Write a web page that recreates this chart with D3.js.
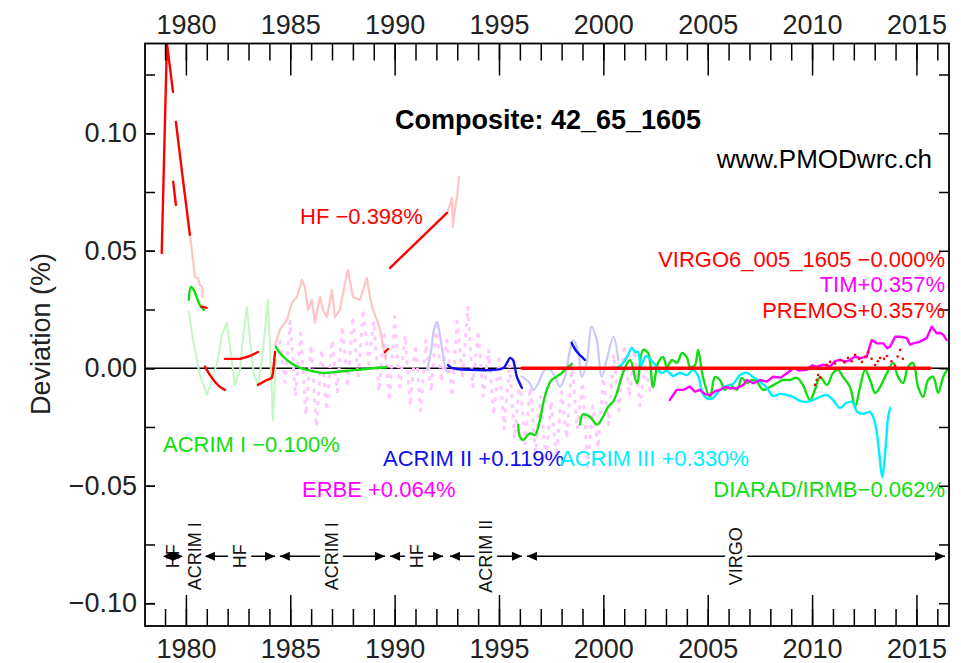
<!DOCTYPE html>
<html><head><meta charset="utf-8">
<script src="https://cdn.jsdelivr.net/npm/d3@7"></script>
<style>body{margin:0;background:#fff;} svg{display:block;font-family:"Liberation Sans",Arial,sans-serif;}</style>
</head><body><svg id="c" width="961" height="663"></svg>
<script>
// ---------------- DATA ----------------
const xMajorTicks = [1980, 1985, 1990, 1995, 2000, 2005, 2010, 2015];
const yMajorTicks = [-0.10, -0.05, 0.00, 0.05, 0.10];

// HF (bright red, used in composite)
const hfSeg1 = [[1978.84,0.049],[1979.09,0.1384],[1979.38,0.1176]];
const hfSeg2 = [[1979.39,0.0794],[1979.52,0.0695]];
const hfSeg3 = [[1979.52,0.1048],[1979.86,0.0802],[1980.19,0.0568]];
const hfSeg4 = [[1980.75,0.0262],[1980.99,0.0257]];
const hfSeg5 = [[1980.91,0.0007],[1981.15,-0.0029],[1981.39,-0.0058],[1981.63,-0.0080],[1981.87,-0.0092]];
const hfSeg6 = [[1981.87,0.0040],[1982.59,0.0040],[1983.07,0.0052],[1983.45,0.0069]];
const hfSeg7 = [[1983.45,-0.0071],[1983.79,-0.0054],[1984.12,-0.0041],[1984.17,-0.0020],[1984.27,0.0069]];
const hfSeg8 = [[1989.54,0.0069],[1989.68,0.0082]];
const hfSeg9 = [[1989.78,0.0427],[1992.51,0.0661]];
// HF (pale, not used)
const hfPale1 = [[1980.19,0.0568],[1980.34,0.0461],[1980.43,0.0389],[1980.58,0.0384],[1980.67,0.0354],[1980.77,0.0346],[1980.81,0.0303]];
const hfPale2 = [[1984.27,0.0099],[1984.50,0.0163],[1984.84,0.0206],[1985.08,0.0278],[1985.32,0.0303],[1985.56,0.0376],[1985.70,0.0346],[1985.85,0.0248],[1986.04,0.0291],[1986.18,0.0193],[1986.42,0.0303],[1986.57,0.0248],[1986.76,0.0218],[1987.00,0.0333],[1987.14,0.0218],[1987.38,0.0248],[1987.62,0.0363],[1987.76,0.0418],[1988.00,0.0303],[1988.34,0.0291],[1988.67,0.0384],[1988.82,0.0303],[1988.96,0.0248],[1989.15,0.0206],[1989.30,0.0163],[1989.44,0.0099],[1989.58,0.0035]];
const hfPale3 = [[1992.51,0.0661],[1992.65,0.0695],[1992.75,0.0725],[1992.79,0.0601],[1992.89,0.0674],[1992.99,0.0729],[1993.08,0.0814]];

// ACRIM I (green)
const acrim1Seg1 = [[1980.14,0.0291],[1980.24,0.0346],[1980.38,0.0333],[1980.53,0.0299],[1980.67,0.0269],[1980.86,0.0248]];
const acrim1Seg2 = [[1984.31,0.0091],[1984.50,0.0065],[1984.84,0.0035],[1985.32,0.0007],[1985.80,-0.0007],[1986.57,-0.0020],[1987.38,-0.0014],[1988.19,-0.0007],[1988.96,0.0000],[1989.63,0.0004]];
const acrim1Pale = [[1980.14,0.0240],[1980.34,0.0120],[1980.67,-0.0029],[1981.01,-0.0114],[1981.25,-0.0050],[1981.53,0.0035],[1981.73,0.0142],[1981.96,0.0193],[1982.16,0.0057],[1982.35,-0.0071],[1982.59,-0.0007],[1982.78,0.0163],[1982.92,0.0261],[1983.07,0.0120],[1983.26,-0.0029],[1983.45,-0.0071],[1983.64,0.0035],[1983.79,0.0163],[1983.93,0.0291],[1984.03,0.0078],[1984.17,-0.0220],[1984.31,0.0035]];

// ERBE (pale magenta)
const erbe = [[1984.50,0.012],[1984.75,-0.006],[1985.00,0.020],[1985.25,-0.012],[1985.50,0.015],[1985.75,-0.020],[1986.00,0.010],[1986.25,-0.025],[1986.50,0.008],[1986.75,-0.018],[1987.00,0.012],[1987.25,-0.010],[1987.50,0.018],[1987.75,-0.008],[1988.00,0.022],[1988.25,-0.004],[1988.50,0.025],[1988.75,0.002],[1989.00,0.020],[1989.25,-0.010],[1989.50,0.016],[1989.75,-0.014],[1990.00,0.022],[1990.25,-0.008],[1990.50,0.014],[1990.75,-0.016],[1991.00,0.010],[1991.25,-0.018],[1991.50,0.012],[1991.75,-0.010],[1992.00,0.018],[1992.25,-0.006],[1992.50,0.012],[1992.75,-0.012],[1993.00,0.020],[1993.25,-0.004],[1993.50,0.026],[1993.75,-0.008],[1994.00,0.016],[1994.25,-0.012],[1994.50,0.008],[1994.75,-0.020],[1995.00,0.004],[1995.25,-0.026],[1995.50,0.002],[1995.75,-0.030],[1996.00,-0.004],[1996.25,-0.032],[1996.50,-0.008],[1996.75,-0.036],[1997.00,-0.012],[1997.25,-0.040],[1997.50,-0.014],[1997.75,-0.038],[1998.00,-0.010],[1998.25,-0.030],[1998.50,0.002],[1998.75,-0.026],[1999.00,-0.006],[1999.25,-0.042],[1999.50,-0.016],[1999.75,-0.034],[2000.00,-0.004],[2000.25,-0.024],[2000.50,0.006],[2000.75,-0.018],[2001.00,0.010],[2001.25,-0.012],[2001.50,0.008],[2001.75,-0.016],[2002.00,0.002],[2002.25,-0.010]];

// ACRIM II (blue)
const acrim2Seg1 = [[1992.56,0.0014],[1992.65,0.0006],[1992.80,0.0000],[1995.19,0.0000],[1995.38,0.0023],[1995.53,0.0044],[1995.67,0.0035],[1995.86,-0.0037],[1996.10,-0.0084]];
const acrim2Seg2 = [[1998.48,0.0108],[1998.72,0.0071],[1998.96,0.0049],[1999.12,0.0035]];
const acrim2Pale1 = [[1991.55,-0.0007],[1991.74,0.0070],[1991.88,0.0163],[1992.03,0.0197],[1992.17,0.0142],[1992.32,0.0057],[1992.46,-0.0007],[1992.56,-0.0016]];
const acrim2Pale2 = [[1996.09,-0.0036],[1996.48,-0.0064],[1996.64,-0.0092],[1996.88,-0.0064],[1997.20,-0.0007],[1997.44,-0.0007],[1997.68,-0.0036],[1997.92,-0.0078],[1998.16,-0.0036],[1998.40,0.0078],[1998.56,0.0120],[1998.80,0.0071],[1998.96,-0.0036],[1999.20,0.0021],[1999.44,0.0177],[1999.68,0.0120],[1999.92,-0.0036],[2000.16,0.0035],[2000.48,0.0134],[2000.72,0.0035]];

// ACRIM III (cyan)
const acrim3 = [[2000.56,0.0001],[2000.80,0.0010],[2000.99,0.0027],[2001.18,0.0057],[2001.37,0.0086],[2001.52,0.0069],[2001.66,0.0069],[2001.80,0.0010],[2002.04,0.0052],[2002.28,0.0035],[2002.52,0.0010],[2002.76,-0.0020],[2003.05,-0.0011],[2003.34,-0.0033],[2003.67,-0.0020],[2004.01,-0.0029],[2004.30,-0.0007],[2004.54,-0.0033],[2004.77,-0.0109],[2005.01,-0.0130],[2005.25,-0.0126],[2005.59,-0.0092],[2005.92,-0.0075],[2006.21,-0.0067],[2006.55,-0.0029],[2006.88,-0.0020],[2007.17,-0.0037],[2007.51,-0.0058],[2007.84,-0.0084],[2008.13,-0.0118],[2008.47,-0.0109],[2008.80,-0.0114],[2009.09,-0.0122],[2009.42,-0.0139],[2009.76,-0.0143],[2010.05,-0.0135],[2010.38,-0.0122],[2010.72,-0.0114],[2011.00,-0.0135],[2011.34,-0.0169],[2011.63,-0.0148],[2011.92,-0.0143],[2012.16,-0.0186],[2012.40,-0.0194],[2012.59,-0.0190],[2012.78,-0.0186],[2012.92,-0.0207],[2013.07,-0.0254],[2013.21,-0.0356],[2013.36,-0.0463],[2013.45,-0.0412],[2013.55,-0.0305],[2013.64,-0.0211],[2013.74,-0.0169]];

// DIARAD/IRMB (green)
const diaradSeg1 = [[1995.92,-0.0240],[1996.00,-0.0291],[1996.16,-0.0305],[1996.48,-0.0277],[1996.72,-0.0284],[1996.96,-0.0220],[1997.12,-0.0149],[1997.29,-0.0092],[1997.52,-0.0050],[1997.76,-0.0036],[1998.00,-0.0021],[1998.24,0.0000],[1998.48,0.0018]];
const diaradSeg2 = [[1998.88,-0.0240],[1999.02,-0.0197],[1999.36,-0.0207],[1999.70,-0.0240],[1999.98,-0.0207],[2000.22,-0.0165],[2000.46,-0.0143],[2000.65,-0.0105],[2000.94,-0.0020],[2001.28,0.0035],[2001.61,-0.0063],[2001.90,0.0078],[2002.14,0.0065],[2002.38,-0.0080],[2002.62,0.0023],[2002.86,0.0048],[2003.05,0.0006],[2003.29,0.0035],[2003.53,0.0023],[2003.77,0.0065],[2004.01,0.0044],[2004.15,0.0006],[2004.39,0.0014],[2004.54,0.0078],[2004.77,-0.0037],[2005.11,-0.0122],[2005.35,-0.0037],[2005.59,-0.0050],[2005.83,-0.0092],[2006.07,-0.0071],[2006.40,-0.0092],[2006.64,-0.0041],[2006.88,-0.0063],[2007.12,-0.0050],[2007.36,-0.0058],[2007.65,-0.0092],[2007.98,-0.0080],[2008.32,-0.0063],[2008.60,-0.0050],[2008.94,-0.0050],[2009.27,-0.0041],[2009.56,-0.0071],[2009.90,-0.0135],[2010.14,-0.0092],[2010.38,-0.0037],[2010.72,-0.0071],[2011.00,-0.0020],[2011.24,-0.0007],[2011.48,-0.0037],[2011.82,-0.0080],[2012.06,-0.0165],[2012.30,-0.0080],[2012.54,-0.0007],[2012.78,-0.0050],[2013.02,-0.0105],[2013.26,-0.0080],[2013.59,-0.0020],[2013.88,0.0023],[2014.12,-0.0037],[2014.36,-0.0063],[2014.60,0.0006],[2014.84,0.0023],[2015.08,-0.0080],[2015.32,-0.0122],[2015.56,-0.0050],[2015.80,-0.0037],[2016.04,-0.0105],[2016.28,-0.0037],[2016.47,-0.0007]];

// TIM (magenta)
const tim = [[2003.19,-0.0135],[2003.51,-0.0092],[2003.83,-0.0092],[2004.15,-0.0078],[2004.39,-0.0100],[2004.63,-0.0092],[2004.87,-0.0110],[2005.11,-0.0114],[2005.35,-0.0098],[2005.59,-0.0092],[2005.83,-0.0080],[2006.07,-0.0085],[2006.39,-0.0085],[2006.71,-0.0071],[2006.87,-0.0050],[2007.19,-0.0064],[2007.51,-0.0050],[2007.83,-0.0057],[2008.14,-0.0036],[2008.50,-0.0040],[2008.79,-0.0021],[2009.10,0.0000],[2009.40,-0.0010],[2009.74,-0.0007],[2010.00,0.0012],[2010.22,0.0007],[2010.55,0.0015],[2010.86,0.0007],[2011.10,0.0030],[2011.34,0.0035],[2011.60,0.0028],[2011.82,0.0035],[2012.05,0.0050],[2012.30,0.0043],[2012.62,0.0049],[2012.75,0.0090],[2012.86,0.0120],[2013.10,0.0106],[2013.41,0.0106],[2013.60,0.0085],[2013.74,0.0092],[2013.98,0.0134],[2014.22,0.0134],[2014.54,0.0128],[2014.70,0.0100],[2014.85,0.0106],[2015.17,0.0113],[2015.49,0.0128],[2015.73,0.0177],[2015.97,0.0149],[2016.15,0.0150],[2016.29,0.0142],[2016.45,0.0120]];

// PREMOS (red dotted)
const premos = [[2010.14,-0.0071],[2010.22,-0.0050],[2010.29,-0.0029],[2010.40,-0.0040],[2010.48,0.0001],[2010.70,0.0015],[2010.86,0.0027],[2011.10,0.0020],[2011.34,0.0035],[2011.55,0.0025],[2011.72,0.0044],[2011.90,0.0030],[2012.06,0.0057],[2012.25,0.0040],[2012.39,0.0027],[2012.55,0.0050],[2012.68,0.0069],[2012.85,0.0040],[2013.02,0.0014],[2013.15,0.0030],[2013.26,0.0044],[2013.45,0.0040],[2013.59,0.0052],[2013.80,0.0030],[2013.98,0.0010],[2014.10,0.0050],[2014.22,0.0078],[2014.35,0.0040],[2014.46,0.0001]];

// VIRGO (reference, red)
const virgo = [[1996.10,0.0000],[2000.00,0.0000],[2005.00,0.0000],[2010.00,0.0000],[2015.65,0.0000]];

// Instrument periods shown at the bottom
const periodNames = ["HF", "ACRIM I", "HF", "ACRIM I", "HF", "ACRIM II", "VIRGO"];
const periodStart = [1978.90, 1980.10, 1980.91, 1984.50, 1989.78, 1992.65, 1996.34];
const periodEnd   = [1979.86, 1980.80, 1984.27, 1989.54, 1992.32, 1996.10, 2016.37];
const periodLevel = -0.08;

// ---------------- DRAW ----------------
const svg = d3.select("#c");
const L = 145, R = 949, T = 43.5, B = 626;
const x = d3.scaleLinear().domain([1978.04, 2016.56]).range([L, R]);
const y = d3.scaleLinear().domain([-0.1097, 0.1382]).range([B, T]);

svg.append("defs").append("clipPath").attr("id","clip")
  .append("rect").attr("x",L).attr("y",T).attr("width",R-L).attr("height",B-T);

const plot = svg.append("g").attr("clip-path","url(#clip)");
const linear = d3.line().x(d=>x(d[0])).y(d=>y(d[1]));
const smooth = d3.line().x(d=>x(d[0])).y(d=>y(d[1])).curve(d3.curveCatmullRom.alpha(0.5));

function draw(data, gen, color, width, dash) {
  const p = plot.append("path").datum(data).attr("d", gen)
    .attr("fill","none").attr("stroke",color).attr("stroke-width",width)
    .attr("stroke-linejoin","round").attr("stroke-linecap","round");
  if (dash) p.attr("stroke-dasharray", dash).attr("stroke-linecap","butt");
  return p;
}

const PALE_RED = "#ffc4c4", PALE_GREEN = "#c4f7c4", PALE_BLUE = "#c8c8fa", PALE_MAG = "#ffc8ff";
const RED = "#ff0000", GREEN = "#11dd11", BLUE = "#1010ee", CYAN = "#00eeff", MAG = "#ff00ff";

// zero line
plot.append("line").attr("x1",L).attr("x2",R).attr("y1",y(0)).attr("y2",y(0))
  .attr("stroke","#000").attr("stroke-width",1.5);

// pale (unused) data
draw(erbe, linear, PALE_MAG, 3, "4,6");
draw(acrim1Pale, linear, PALE_GREEN, 2);
[hfPale1, hfPale2, hfPale3].forEach(s => draw(s, linear, PALE_RED, 2.2));
[acrim2Pale1, acrim2Pale2].forEach(s => draw(s, smooth, PALE_BLUE, 2.2));

// bright (used) data
[acrim1Seg1, acrim1Seg2].forEach(s => draw(s, smooth, GREEN, 2.4));
[hfSeg1, hfSeg2, hfSeg3, hfSeg4, hfSeg5, hfSeg6, hfSeg7, hfSeg8, hfSeg9].forEach(s => draw(s, linear, RED, 2.4));
[acrim2Seg1, acrim2Seg2].forEach(s => draw(s, smooth, BLUE, 2.4));
[diaradSeg1, diaradSeg2].forEach(s => draw(s, smooth, GREEN, 2.4));
draw(acrim3, smooth, CYAN, 2.4);
draw(tim, linear, MAG, 2.4);
draw(virgo, linear, RED, 3.5);
plot.selectAll("circle.premos").data(premos).join("circle").attr("class","premos")
  .attr("cx",d=>x(d[0])).attr("cy",d=>y(d[1])).attr("r",1.3).attr("fill",RED);

// ---------------- AXES ----------------
const tickFont = g => g.selectAll("text").attr("font-size",27).attr("fill","#222")
  .attr("font-family","'Liberation Sans',Arial,sans-serif");
const clean = g => g.select(".domain").remove();
const minorYears = d3.range(1979, 2017);
const minorY = d3.range(-0.1, 0.1376, 0.025);

// bottom
svg.append("g").attr("transform",`translate(0,${B})`)
  .call(d3.axisBottom(x).tickValues(minorYears).tickSize(-17).tickFormat(""))
  .call(clean);
svg.append("g").attr("transform",`translate(0,${B})`)
  .call(d3.axisBottom(x).tickValues(xMajorTicks).tickSize(-31).tickPadding(13).tickFormat(d3.format("d")))
  .call(clean).call(tickFont);
// top
svg.append("g").attr("transform",`translate(0,${T})`)
  .call(d3.axisTop(x).tickValues(minorYears).tickSize(-17).tickFormat(""))
  .call(clean);
svg.append("g").attr("transform",`translate(0,${T})`)
  .call(d3.axisTop(x).tickValues(xMajorTicks).tickSize(-32).tickPadding(10).tickFormat(d3.format("d")))
  .call(clean).call(tickFont);
// left
svg.append("g").attr("transform",`translate(${L},0)`)
  .call(d3.axisLeft(y).tickValues(minorY).tickSize(-10).tickFormat(""))
  .call(clean);
svg.append("g").attr("transform",`translate(${L},0)`)
  .call(d3.axisLeft(y).tickValues(yMajorTicks).tickSize(-10).tickPadding(8).tickFormat(d3.format(".2f")))
  .call(clean).call(tickFont);
// right
svg.append("g").attr("transform",`translate(${R},0)`)
  .call(d3.axisRight(y).tickValues(minorY).tickSize(-10).tickFormat(""))
  .call(clean);
svg.selectAll(".tick line").attr("stroke","#000").attr("stroke-width",1.5);

// frame
svg.append("rect").attr("x",L).attr("y",T).attr("width",R-L).attr("height",B-T)
  .attr("fill","none").attr("stroke","#000").attr("stroke-width",1.8);

// y label
svg.append("text").attr("transform","translate(50,334) rotate(-90)")
  .attr("text-anchor","middle").attr("font-size",27).attr("fill","#222").text("Deviation (%)");

// title & credit
svg.append("text").attr("x",548).attr("y",129).attr("text-anchor","middle")
  .attr("font-size",27).attr("font-weight","bold").attr("fill","#000").text("Composite: 42_65_1605");
svg.append("text").attr("x",932).attr("y",168).attr("text-anchor","end")
  .attr("font-size",26).attr("fill","#000").text("www.PMODwrc.ch");

// series annotations
const ann = (tx, ty, anchor, color, s) => svg.append("text").attr("x",tx).attr("y",ty)
  .attr("text-anchor",anchor).attr("font-size",22).attr("fill",color).text(s);
ann(300, 224, "start", RED, "HF −0.398%");
ann(163, 452, "start", GREEN, "ACRIM I −0.100%");
ann(302, 497, "start", MAG, "ERBE +0.064%");
ann(383, 466, "start", BLUE, "ACRIM II +0.119%");
ann(560, 466, "start", CYAN, "ACRIM III +0.330%");
ann(945, 497, "end", GREEN, "DIARAD/IRMB−0.062%");
ann(945, 267, "end", RED, "VIRGO6_005_1605 −0.000%");
ann(945, 292, "end", MAG, "TIM+0.357%");
ann(945, 318, "end", RED, "PREMOS+0.357%");

// ---------------- PERIOD ARROWS ----------------
const py = y(periodLevel);
const pg = svg.append("g");
periodNames.forEach((n, i) => {
  const x0 = x(periodStart[i]), x1 = x(periodEnd[i]);
  if (x1 - x0 > 25) pg.append("line").attr("x1",x0).attr("x2",x1).attr("y1",py).attr("y2",py)
    .attr("stroke","#000").attr("stroke-width",1.5);
});
periodNames.forEach((n, i) => {
  const xc = (x(periodStart[i]) + x(periodEnd[i])) / 2;
  pg.append("text").attr("transform",`translate(${xc + 6},${py}) rotate(-90)`)
    .attr("text-anchor","middle").attr("font-size",18).attr("fill","#111")
    .attr("stroke","#fff").attr("stroke-width",10).attr("paint-order","stroke")
    .attr("stroke-linejoin","round").text(n);
});
periodNames.forEach((n, i) => {
  const x0 = x(periodStart[i]), x1 = x(periodEnd[i]);
  if (x1 - x0 < 25 && n !== "HF") return;
  pg.append("path").attr("d",`M${x0},${py}L${x0+10},${py-4.5}L${x0+10},${py+4.5}Z`).attr("fill","#000");
  pg.append("path").attr("d",`M${x1},${py}L${x1-10},${py-4.5}L${x1-10},${py+4.5}Z`).attr("fill","#000");
});
</script></body></html>
